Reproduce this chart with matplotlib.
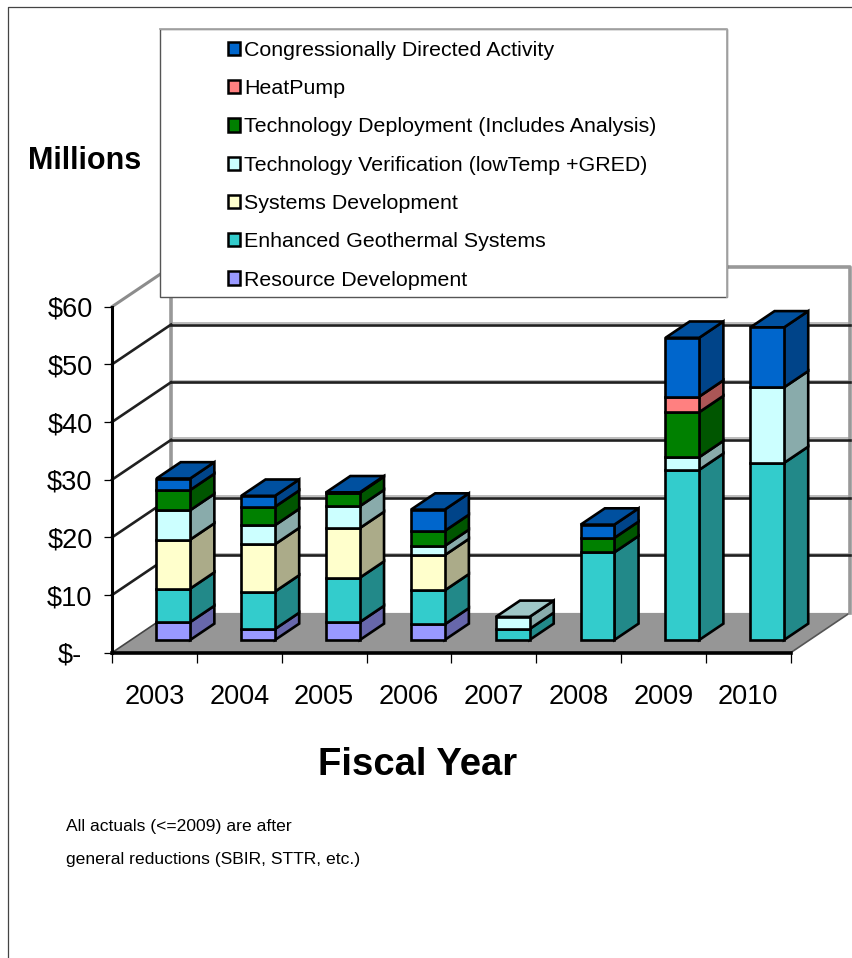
import numpy as np
import matplotlib
matplotlib.use('Agg')
import matplotlib.pyplot as plt
from matplotlib.lines import Line2D
from matplotlib.patches import Patch, Polygon, Rectangle
from matplotlib.colors import to_rgb
from matplotlib.transforms import ScaledTranslation

plt.rcParams['font.family'] = ['Liberation Sans', 'DejaVu Sans']

years = ['2003', '2004', '2005', '2006', '2007', '2008', '2009', '2010']
# stacked from the floor up, $ millions
resource = [3.1, 1.9, 3.1, 2.7, 0, 0, 0, 0]
egs = [5.8, 6.5, 7.7, 5.9, 1.9, 15.2, 29.5, 30.7]
systems = [8.5, 8.2, 8.6, 6.1, 0, 0, 0, 0]
verification = [5.1, 3.3, 3.8, 1.6, 2.1, 0, 2.2, 13.1]
deployment = [3.5, 3.2, 2.3, 2.6, 0, 2.5, 7.8, 0]
heatpump = [0, 0, 0, 0, 0, 0, 2.7, 0]
congress = [2.0, 1.9, 0.1, 3.7, 0, 2.3, 10.2, 10.4]

series = [resource, egs, systems, verification, deployment, heatpump, congress]
names = ['Resource Development', 'Enhanced Geothermal Systems', 'Systems Development',
         'Technology Verification (lowTemp +GRED)', 'Technology Deployment (Includes Analysis)',
         'HeatPump', 'Congressionally Directed Activity']
colors = ['#9999FF', '#33CCCC', '#FFFFCC', '#CCFFFF', '#008000', '#FF8080', '#0066CC']
yticks = [0, 10, 20, 30, 40, 50, 60]
ylabels = ['$-', '$10', '$20', '$30', '$40', '$50', '$60']

W, H = 852, 958
# depth of the chart box in data units (categories / $M)
DX, DY = 0.696, 6.9
BAR_W = 0.397
D0, D1 = 0.32, 0.73


def proj(x, y, d):
    return x + d * DX, y + d * DY


def shade(c, f):
    return tuple(v * f for v in to_rgb(c))


fig = plt.figure(figsize=(W / 100, H / 100), dpi=100, facecolor='white')
ax = fig.add_axes([112 / W, 1 - 652.7 / H, (790.7 - 112) / W, (652.7 - 306.7) / H])
ax.set_xlim(-0.5, 7.5)
ax.set_ylim(0, 60)
ax.patch.set_visible(False)

# outer frame of the slide
fig.add_artist(Line2D([8 / W, 8 / W, 1], [0, 1 - 7 / H, 1 - 7 / H], color='#444444', lw=0.9))

# floor
x0, x1 = -0.5, 7.5
floor = [proj(x0, 0, 0), proj(x1, 0, 0), proj(x1, 0, 1), proj(x0, 0, 1)]
ax.add_patch(Polygon(floor, closed=True, fc='#969696', ec='none', zorder=1, clip_on=False))
ax.plot(*zip(proj(x1, 0, 0), proj(x1, 0, 1)), color='#555555', lw=1.2, zorder=1.1, clip_on=False)
ax.plot(*zip(proj(x0, 0, 0), proj(x0, 0, 1)), color='#444444', lw=1.2, zorder=1.1, clip_on=False)

# walls and gridlines
for v in yticks[1:-1]:
    ax.plot(*zip(proj(x0, v + 0.25, 1), proj(x1, v + 0.25, 1)), color='#b0b0b0', lw=1.2, zorder=1.2, clip_on=False)
    ax.plot(*zip(proj(x0, v, 1), proj(x1, v, 1)), color='#202020', lw=1.9, zorder=1.3, clip_on=False)
    ax.plot(*zip(proj(x0, v, 0), proj(x0, v, 1)), color='#202020', lw=1.9, zorder=1.3, clip_on=False)
edge = [proj(x0, 0, 1), proj(x0, 60, 1), proj(x1, 60, 1), proj(x1, 0, 1)]
ax.plot(*zip(*edge), color='#999999', lw=2.6, zorder=1.2, clip_on=False)
ax.plot(*zip(proj(x0, 60, 0), proj(x0, 60, 1)), color='#8c8c8c', lw=2.2, zorder=1.2, clip_on=False)

# bars, built up from the values
bottoms = np.zeros(len(years))
tops = np.array(series).sum(axis=0)
for vals, col in zip(series, colors):
    for i, v in enumerate(vals):
        if v == 0:
            continue
        b = bottoms[i]
        t = b + v
        lft = i - BAR_W / 2
        rgt = i + BAR_W / 2
        front = [proj(lft, b, D0), proj(rgt, b, D0), proj(rgt, t, D0), proj(lft, t, D0)]
        side = [proj(rgt, b, D0), proj(rgt, b, D1), proj(rgt, t, D1), proj(rgt, t, D0)]
        ax.add_patch(Polygon(side, closed=True, fc=shade(col, 0.67), ec='black', lw=1.9, zorder=3, clip_on=False))
        ax.add_patch(Polygon(front, closed=True, fc=col, ec='black', lw=1.9, zorder=3.1, clip_on=False))
        if abs(t - tops[i]) < 1e-6:
            cap = [proj(lft, t, D0), proj(rgt, t, D0), proj(rgt, t, D1), proj(lft, t, D1)]
            ax.add_patch(Polygon(cap, closed=True, fc=shade(col, 0.78), ec='black', lw=1.9, zorder=3, clip_on=False))
    bottoms += np.array(vals)

# axes
for s in ['top', 'right']:
    ax.spines[s].set_visible(False)
ax.spines['left'].set_linewidth(2.2)
ax.spines['bottom'].set_linewidth(2.6)
ax.spines['left'].set_zorder(4)
ax.spines['bottom'].set_zorder(4)
ax.set_yticks(yticks)
ax.set_yticklabels(ylabels, fontsize=19.5)
ax.tick_params(axis='y', length=6, width=0.9, pad=8)
ax.set_xticks(range(len(years)))
ax.set_xticklabels(years, fontsize=19.5)
ax.set_xticks(np.arange(-0.5, 8), minor=True)
ax.tick_params(axis='x', which='major', length=0, pad=22.5)
ax.tick_params(axis='x', which='minor', length=7, width=0.9)
# the "$-" label sits further in from the axis
zero_lab = ax.get_yticklabels()[0]
zero_lab.set_transform(zero_lab.get_transform() + ScaledTranslation(-0.11, 0, fig.dpi_scale_trans))

# titles and note
fig.text(28 / W, 1 - 169 / H, 'Millions', fontsize=22, fontweight='bold', ha='left', va='baseline')
fig.text(417.5 / W, 1 - 775 / H, 'Fiscal Year', fontsize=27.5, fontweight='bold', ha='center', va='baseline')
note = ['All actuals (<=2009) are after', 'general reductions (SBIR, STTR, etc.)']
fig.text(66 / W, 1 - 831 / H, note[0], fontsize=12.6, ha='left', va='baseline')
fig.text(66 / W, 1 - 864 / H, note[1], fontsize=12.6, ha='left', va='baseline')

# legend box and entries
ax.add_patch(Rectangle((159.5 / W, 1 - 297 / H), (727 - 159.5) / W, (297 - 29) / H, transform=fig.transFigure,
                       fc='white', ec='#555555', lw=1, zorder=5, clip_on=False))
ax.plot([159.5 / W, 727 / W, 727 / W], [1 - 29 / H, 1 - 29 / H, 1 - 297 / H], transform=fig.transFigure,
        color='#a8a8a8', lw=1.3, zorder=5.1, clip_on=False)
handles = [Patch(fc=c, ec='black', lw=1.8, label=n) for c, n in zip(colors, names)]
leg = ax.legend(handles=handles[::-1], loc='upper left', bbox_to_anchor=(228 / W, 1 - 41 / H),
                bbox_transform=fig.transFigure, frameon=False, fontsize=15.4, borderpad=0, borderaxespad=0,
                handlelength=0.58, handleheight=0.58, handletextpad=0.18, labelspacing=0.9)
leg.set_zorder(6)

fig.savefig('out.png', dpi=100)
